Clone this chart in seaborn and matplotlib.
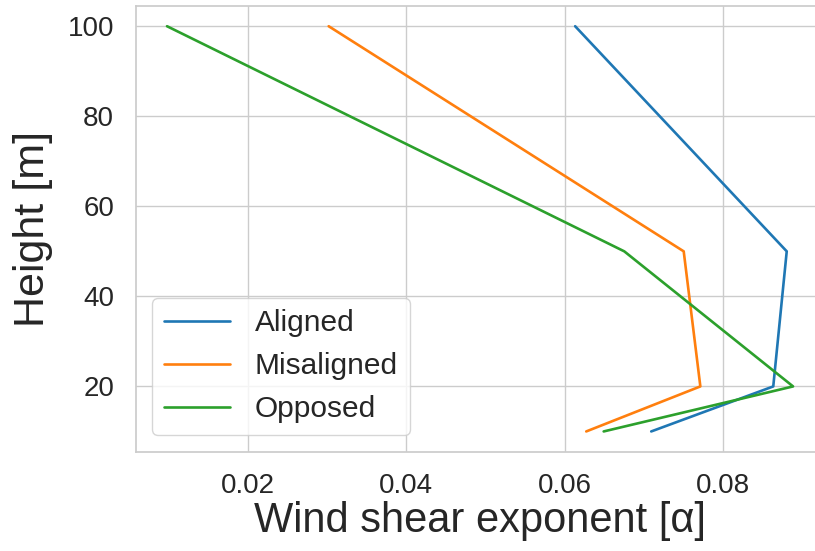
import matplotlib
matplotlib.use("Agg")
import matplotlib.pyplot as plt
import seaborn as sns
import pandas as pd

# Wind shear exponent profiles by wind/wave alignment case
heights = [10, 20, 50, 100]
aligned = [0.0709, 0.0863, 0.0880, 0.0613]
misaligned = [0.0627, 0.0771, 0.0750, 0.0302]
opposed = [0.0649, 0.0888, 0.0675, 0.0098]
cases = ["Aligned", "Misaligned", "Opposed"]

df = pd.DataFrame({
    "alpha": aligned + misaligned + opposed,
    "height": heights * 3,
    "case": [c for c in cases for _ in heights],
})

sns.set_theme(style="whitegrid")
plt.rcParams["font.family"] = ["Liberation Sans", "DejaVu Sans"]

fig = plt.figure(figsize=(8.15, 5.51), dpi=100)
ax = fig.add_axes([0.1665, 0.1802, 0.845, 0.809])

sns.lineplot(data=df, x="alpha", y="height", hue="case", hue_order=cases,
             palette="tab10", sort=False, estimator=None, linewidth=1.9, ax=ax)

ax.set_ylim(5.5, 104.5)
ax.set_xlim(0.00585, 0.09275)
ax.set_xticks([0.02, 0.04, 0.06, 0.08])
ax.set_yticks([20, 40, 60, 80, 100])
ax.tick_params(labelsize=20, pad=9.5, colors="#262626")

ax.set_xlabel("Wind shear exponent [α]", fontsize=30, color="#262626", labelpad=1)
ax.set_ylabel("Height [m]", fontsize=31, color="#262626", labelpad=10.5)

for side in ["left", "bottom"]:
    ax.spines[side].set_color("#cccccc")

leg = ax.legend(loc="lower left", fontsize=21.5, handlelength=2.2,
                handletextpad=0.83, labelspacing=0.5, borderaxespad=0.55)
for line in leg.get_lines():
    line.set_linewidth(1.9)

fig.savefig("out.png", dpi=100)
